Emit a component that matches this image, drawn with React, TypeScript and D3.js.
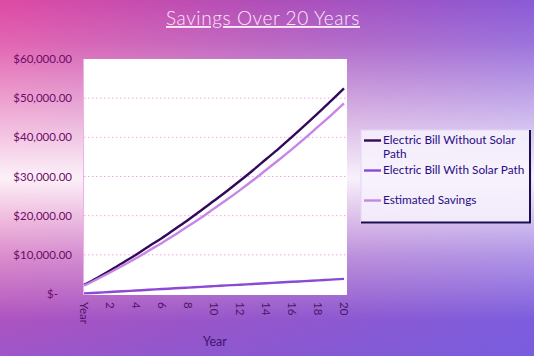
import React from "react";
import * as d3 from "d3";

const categories = ["Year", "1", "2", "3", "4", "5", "6", "7", "8", "9", "10", "11", "12", "13", "14", "15", "16", "17", "18", "19", "20"];
const withoutSolar = [2300, 4100, 6000, 8000, 10000, 12200, 14300, 16600, 18900, 21300, 23800, 26300, 28900, 31600, 34400, 37200, 40100, 43100, 46200, 49300, 52500];
const withSolar = [150, 330, 520, 700, 890, 1080, 1260, 1450, 1630, 1820, 2000, 2190, 2370, 2560, 2740, 2930, 3110, 3300, 3480, 3670, 3850];
const savings = [2150, 3770, 5480, 7300, 9110, 11120, 13040, 15150, 17270, 19480, 21800, 24110, 26530, 29040, 31660, 34270, 36990, 39800, 42720, 45630, 48650];
const yTicks = [0, 10000, 20000, 30000, 40000, 50000, 60000];
const seriesNames = ["Electric Bill Without Solar Path", "Electric Bill With Solar Path", "Estimated Savings"];
const seriesColors = ["#33095a", "#8a4ad6", "#c786e6"];

const W = 534, H = 356;
const FONT = "Lato, 'Open Sans', sans-serif";

export default function App() {
  const x = d3.scalePoint<string>().domain(categories).range([84, 344]);
  const y = d3.scaleLinear().domain([0, 60000]).range([294, 59]);
  const line = d3.line<number>().x((_, i) => x(categories[i]) as number).y((d) => y(d)).curve(d3.curveMonotoneX);
  const fmt = (v: number) => (v === 0 ? "$-" : "$" + d3.format(",.2f")(v));
  const series = [withoutSolar, withSolar, savings];

  return (
    <svg width={W} height={H} style={{ position: "absolute", left: 0, top: 0 }}>
      <defs>
        <linearGradient id="bgH" x1="0" x2="1" y1="0" y2="0">
          <stop offset="0" stopColor="#de4aa4" />
          <stop offset="0.5" stopColor="#b04eb8" />
          <stop offset="1" stopColor="#8a5ad6" />
        </linearGradient>
        <linearGradient id="bgBottom" x1="0" x2="0" y1="0" y2="1">
          <stop offset="0.55" stopColor="#6a60e6" stopOpacity="0" />
          <stop offset="1" stopColor="#6a60e6" stopOpacity="0.55" />
        </linearGradient>
        <linearGradient id="bgGlow" x1="0" x2="0" y1="0" y2="1">
          <stop offset="0" stopColor="#ffffff" stopOpacity="0" />
          <stop offset="0.12" stopColor="#ffffff" stopOpacity="0.15" />
          <stop offset="0.5" stopColor="#ffffff" stopOpacity="0.92" />
          <stop offset="0.72" stopColor="#ffffff" stopOpacity="0.35" />
          <stop offset="0.9" stopColor="#ffffff" stopOpacity="0" />
        </linearGradient>
      </defs>
      <rect x={0} y={0} width={W} height={H} fill="url(#bgH)" />
      <rect x={0} y={0} width={W} height={H} fill="url(#bgBottom)" />
      <rect x={0} y={0} width={W} height={H} fill="url(#bgGlow)" />

      <text x={263} y={25} textAnchor="middle" fontFamily={FONT} fontSize={19} fontWeight={300} letterSpacing={0.6} fill="#fde8f8" textDecoration="underline" style={{ textDecoration: "underline" }}>
        Savings Over 20 Years
      </text>

      <rect x={83} y={59} width={264} height={236} fill="#ffffff" />
      <line x1={83.5} x2={83.5} y1={59} y2={295} stroke="#f0b0e8" strokeWidth={1} />

      {yTicks.filter((t) => t > 0 && t < 60000).map((t) => (
        <line key={t} x1={84} x2={346} y1={y(t)} y2={y(t)} stroke="#f3a6e6" strokeWidth={1} strokeDasharray="1.5,2.5" />
      ))}

      {yTicks.map((t) => (
        <text key={t} x={t === 0 ? 58 : 72} y={y(t) + 4} textAnchor="end" fontFamily={FONT} fontSize={11.5} fill="#6e0a68">
          {fmt(t)}
        </text>
      ))}

      {categories.map((c, i) =>
        i % 2 === 0 ? (
          <text key={c} transform={`translate(${(x(c) as number) - 4},302) rotate(90)`} textAnchor="start" fontFamily={FONT} fontSize={11.5} fill="#4e1466">
            {c}
          </text>
        ) : null
      )}

      <text x={215} y={346} textAnchor="middle" fontFamily={FONT} fontSize={12.5} fill="#3e1470">Year</text>

      {series.map((s, k) => (
        <path key={k} d={line(s) || ""} fill="none" stroke={seriesColors[k]} strokeWidth={2.4} />
      ))}

      <g>
        <rect x={361} y={130} width={170} height={93} fill="#f7f2fd" fillOpacity={0.85} stroke="#e4d6f6" strokeWidth={1} />
        <line x1={530} x2={530} y1={130} y2={223} stroke="#1c0c52" strokeWidth={2} />
        <line x1={361} x2={531} y1={222.5} y2={222.5} stroke="#1c0c52" strokeWidth={2} />
        {[
          { yy: 140.5, lines: ["Electric Bill Without Solar", "Path"] },
          { yy: 170.5, lines: ["Electric Bill With Solar Path"] },
          { yy: 200.5, lines: ["Estimated Savings"] },
        ].map((it, k) => (
          <g key={k}>
            <line x1={364} x2={381} y1={it.yy} y2={it.yy} stroke={seriesColors[k]} strokeWidth={2.4} />
            {it.lines.map((l, j) => (
              <text key={j} x={383} y={it.yy + 3.5 + j * 14} fontFamily={FONT} fontSize={11.8} fill="#2a0c86">{l}</text>
            ))}
          </g>
        ))}
      </g>
    </svg>
  );
}
